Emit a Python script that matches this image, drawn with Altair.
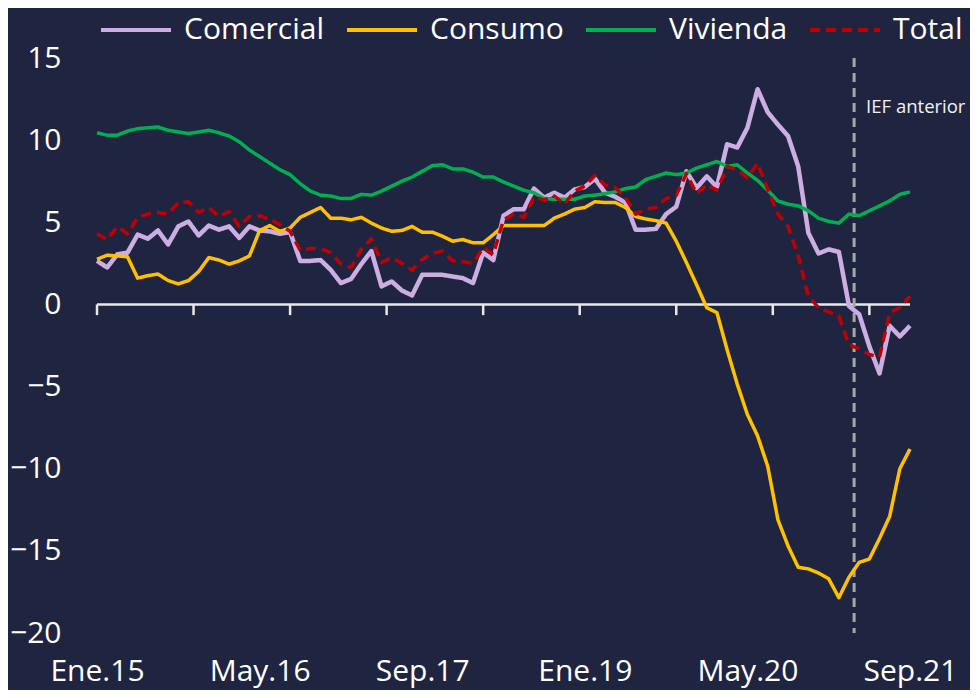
import json
import altair as alt
import pandas as pd

# ---------------- data (monthly, Ene.15 .. Sep.21) ----------------
series = ["Comercial", "Consumo", "Vivienda", "Total"]
colors = ["#cdaee3", "#ffc000", "#00b050", "#c00000"]
widths = [4.5, 3.5, 3.5, 3.5]

comercial = [2.65, 2.25, 3.05, 3.15, 4.25, 4.0, 4.5, 3.65, 4.75, 5.05,
             4.2, 4.8, 4.55, 4.75, 4.05, 4.75, 4.5, 4.45, 4.3, 4.4,
             2.65, 2.65, 2.7, 2.1, 1.3, 1.55, 2.45, 3.25, 1.1, 1.4,
             0.85, 0.55, 1.8, 1.8, 1.8, 1.7, 1.6, 1.3, 3.15, 2.7,
             5.4, 5.8, 5.8, 7.05, 6.5, 6.8, 6.5, 7.0, 7.15, 7.65,
             6.8, 6.55, 6.2, 4.55, 4.55, 4.6, 5.5, 5.95, 8.1, 7.1,
             7.8, 7.15, 9.75, 9.55, 10.75, 13.1, 11.7, 10.95, 10.25, 8.4,
             4.35, 3.1, 3.35, 3.2, -0.1, -0.6, -2.55, -4.2, -1.3, -1.95,
             -1.3]
consumo = [2.75, 3.0, 2.95, 2.9, 1.6, 1.75, 1.85, 1.45, 1.25, 1.45,
           2.0, 2.85, 2.7, 2.45, 2.65, 2.95, 4.5, 4.8, 4.45, 4.65,
           5.3, 5.6, 5.9, 5.25, 5.25, 5.15, 5.3, 4.95, 4.65, 4.45,
           4.5, 4.75, 4.4, 4.4, 4.15, 3.85, 3.95, 3.75, 3.75, 4.25,
           4.8, 4.8, 4.8, 4.8, 4.8, 5.25, 5.5, 5.8, 5.9, 6.25,
           6.2, 6.2, 5.9, 5.35, 5.2, 5.1, 4.95, 3.85, 2.55, 1.2,
           -0.2, -0.5, -2.75, -4.85, -6.7, -8.0, -9.85, -13.1, -14.7, -16.0,
           -16.1, -16.35, -16.7, -17.85, -16.6, -15.7, -15.5, -14.25, -12.9, -10.0,
           -8.8]
vivienda = [10.45, 10.3, 10.3, 10.55, 10.7, 10.75, 10.8, 10.6, 10.5, 10.4,
            10.5, 10.6, 10.45, 10.25, 9.9, 9.4, 9.0, 8.6, 8.2, 7.9,
            7.35, 6.9, 6.65, 6.6, 6.45, 6.45, 6.7, 6.65, 6.9, 7.2,
            7.5, 7.75, 8.1, 8.45, 8.5, 8.25, 8.25, 8.05, 7.75, 7.75,
            7.45, 7.2, 6.95, 6.8, 6.45, 6.4, 6.4, 6.4, 6.6, 6.65,
            6.75, 6.85, 7.05, 7.15, 7.6, 7.8, 8.0, 7.9, 8.0, 8.3,
            8.5, 8.7, 8.4, 8.5, 8.0, 7.55, 6.95, 6.3, 6.1, 6.0,
            5.7, 5.25, 5.05, 4.95, 5.5, 5.4, 5.7, 6.0, 6.3, 6.7,
            6.85]
total = [4.3, 3.95, 4.75, 4.3, 5.3, 5.5, 5.6, 5.5, 6.2, 6.25,
         5.6, 5.9, 5.35, 5.65, 4.75, 5.35, 5.4, 5.2, 4.85, 4.45,
         3.3, 3.4, 3.4, 3.15, 2.45, 2.25, 3.35, 4.0, 2.55, 2.85,
         2.5, 2.1, 2.75, 3.1, 3.25, 2.65, 2.6, 2.5, 3.45, 3.05,
         5.15, 5.5, 5.3, 6.55, 6.35, 6.6, 6.1, 6.9, 7.2, 7.85,
         7.25, 7.1, 6.5, 5.5, 5.8, 5.9, 6.45, 6.65, 7.95, 6.75,
         7.3, 6.95, 8.4, 8.2, 7.7, 8.6, 7.0, 5.5, 4.75, 2.95,
         0.5, -0.2, -0.45, -0.7, -2.45, -2.7, -3.05, -3.2, -0.5, -0.2,
         0.5]

label_pos = [0, 16, 32, 48, 64, 80]
label_txt = ["Ene.15", "May.16", "Sep.17", "Ene.19", "May.20", "Sep.21"]
tick_pos = [0, 9.5, 19, 28.5, 38, 47.5, 57, 66.5, 76]
y_ticks = [-20, -15, -10, -5, 0, 5, 10, 15]
ief_x = [74.5]
ief_label = ["IEF anterior"]

# ---------------- build tables ----------------
rows = []
for name, vals in zip(series, [comercial, consumo, vivienda, total]):
    for i, v in enumerate(vals):
        rows.append({"mes": i, "serie": name, "valor": v})
df = pd.DataFrame(rows)

BG = "#1f2540"
FG = "#ffffff"
FONT = "Open Sans"

label_expr = f"{json.dumps(label_txt)}[indexof({json.dumps(label_pos)}, datum.value)]"

xscale = alt.Scale(domain=[label_pos[0], label_pos[-1]], nice=False, zero=False)
yscale = alt.Scale(domain=[y_ticks[0], y_ticks[-1]], nice=False, zero=False)

xaxis = alt.Axis(values=label_pos, labelExpr=label_expr, domain=False,
                 ticks=False, grid=False, labelFlush=False,
                 labelPadding=23, labelFontSize=30, labelColor=FG,
                 labelFont=FONT, title=None)
yaxis = alt.Axis(values=y_ticks, domain=False, ticks=False, grid=False,
                 labelPadding=36, labelFontSize=30, labelColor=FG,
                 labelFont=FONT, title=None)


def X(field):
    return alt.X(field, scale=xscale, axis=xaxis, title=None)


def Y(field):
    return alt.Y(field, scale=yscale, axis=yaxis, title=None)


legend = alt.Legend(
    title=None, orient="none", direction="horizontal", columns=4,
    legendX=2, legendY=-65, padding=0,
    symbolType="stroke", symbolSize=4900, symbolStrokeWidth=4,
    labelFontSize=30, labelColor=FG, labelFont=FONT,
    labelOffset=11, columnPadding=14,
)

base = alt.Chart(df).encode(
    x=X("mes:Q"),
    y=Y("valor:Q"),
    color=alt.Color("serie:N", scale=alt.Scale(domain=series, range=colors),
                    legend=legend),
    strokeDash=alt.StrokeDash("serie:N",
                              scale=alt.Scale(domain=series,
                                              range=[[1, 0], [1, 0], [1, 0], [10, 6]]),
                              legend=legend),
)

lines = [
    base.transform_filter(alt.datum.serie == s).mark_line(strokeWidth=w, strokeJoin="round")
    for s, w in zip(series, widths)
]

axis_df = pd.DataFrame({"x0": [label_pos[0]], "x1": [label_pos[-1]], "y0": [0]})
zero_line = alt.Chart(axis_df).mark_rule(color="#e8e8e8", strokeWidth=2.5).encode(
    x=X("x0:Q"), x2="x1:Q", y=Y("y0:Q"),
)

ticks_df = pd.DataFrame({"t": tick_pos, "y0": [0] * len(tick_pos),
                         "y1": [-0.65] * len(tick_pos)})
tick_marks = alt.Chart(ticks_df).mark_rule(color="#e8e8e8", strokeWidth=2.5).encode(
    x=X("t:Q"), y=Y("y0:Q"), y2="y1:Q",
)

ief_df = pd.DataFrame({"x": ief_x, "ytop": [y_ticks[-1]], "ybot": [y_ticks[0]],
                       "ylab": [12], "label": ief_label})
ief_line = alt.Chart(ief_df).mark_rule(color="#a6a6a6", strokeWidth=3,
                                       strokeDash=[9, 6]).encode(
    x=X("x:Q"), y=Y("ytop:Q"), y2="ybot:Q",
)
ief_text = alt.Chart(ief_df).mark_text(align="left", baseline="middle", dx=12,
                                       fontSize=18.5, color="#f2f2f2", font=FONT).encode(
    x=X("x:Q"), y=Y("ylab:Q"), text="label:N",
)

chart = alt.layer(zero_line, tick_marks, ief_line, *lines, ief_text).properties(
    width=813, height=575,
    autosize=alt.AutoSizeParams(type="none"),
    padding={"left": 89, "top": 50, "right": 60, "bottom": 57},
).configure(background=BG).configure_view(stroke=None)

chart.save("out.html", embed_options={"renderer": "svg", "actions": False})
